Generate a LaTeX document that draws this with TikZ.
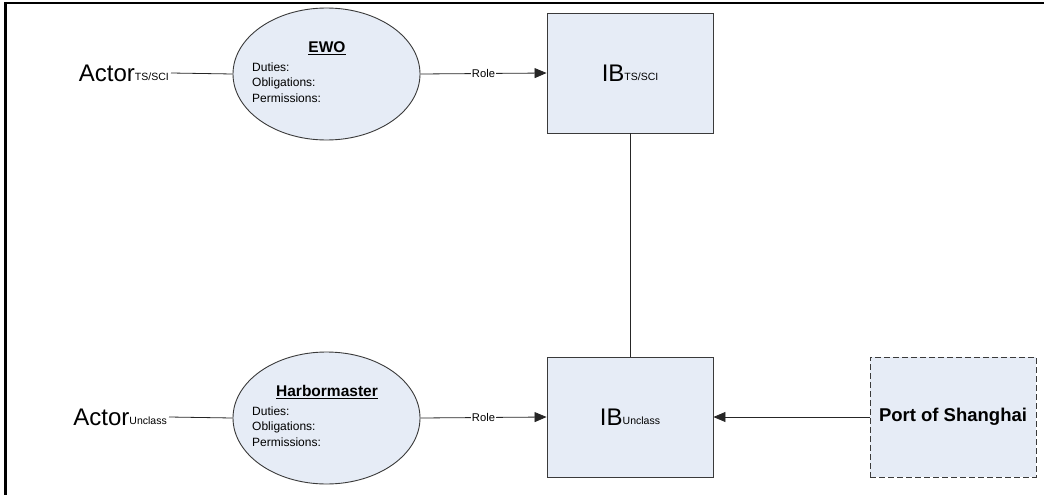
\documentclass[tikz,border=0pt]{standalone}
\usepackage{fontspec}
\setmainfont{Liberation Sans}
\usetikzlibrary{arrows.meta,shapes.geometric}

\definecolor{shapefill}{HTML}{E6ECF6}
\definecolor{shapeline}{HTML}{3A3A3A}

% small classification tag set after a large label
\newcommand{\clsub}[1]{\raisebox{0.3pt}{\fontsize{10.5}{11}\selectfont #1}}

\tikzset{
  actorlabel/.style={font=\fontsize{24}{26}\selectfont, inner sep=2pt, anchor=east},
  roleshape/.style={ellipse, draw=shapeline, line width=0.9pt, fill=shapefill,
    minimum width=187pt, minimum height=132pt, inner sep=0pt},
  infobox/.style={rectangle, draw=shapeline, line width=0.9pt, fill=shapefill,
    minimum width=166pt, minimum height=120pt, inner sep=0pt, font=\fontsize{24}{26}\selectfont},
  extbox/.style={infobox, dashed, dash pattern=on 6pt off 3pt, font=\bfseries\fontsize{18.5}{20}\selectfont},
  roletitle/.style={font=\bfseries\fontsize{15.5}{17}\selectfont, inner sep=0pt, anchor=base},
  roleitem/.style={font=\fontsize{12}{13}\selectfont, inner sep=0pt, anchor=base west},
  link/.style={line width=0.8pt, draw=black!85},
  arrowlink/.style={link, -{Triangle[length=12pt,width=10pt]}},
  linklabel/.style={font=\fontsize{11.2}{12}\selectfont, fill=white, inner sep=1pt},
}

\begin{document}
\begin{tikzpicture}[x=1pt, y=-1pt]
\useasboundingbox (0,0) rectangle (1044,495);

% frame edges
\draw[line width=2.5pt] (4,3) -- (1044,3);
\draw[line width=2.5pt] (5.3,2) -- (5.3,495);

% upper row: TS/SCI
\node[actorlabel] (actorA) at (171,73) {Actor\clsub{TS/SCI}};
\node[roleshape] (ewo) at (326.5,74) {};
\node[roletitle] (ewoT) at (327,52.5) {\underline{EWO}};
\node[roleitem] (ewoD) at (252,71) {Duties:};
\node[roleitem] (ewoO) at (252,86.5) {Obligations:};
\node[roleitem] (ewoP) at (252,102) {Permissions:};
\node[infobox] (ibA) at (630,73) {IB\clsub{TS/SCI}};

% lower row: Unclass
\node[actorlabel] (actorB) at (169,417) {Actor\clsub{Unclass}};
\node[roleshape] (hm) at (326.5,418) {};
\node[roletitle] (hmT) at (327,396.5) {\underline{Harbormaster}};
\node[roleitem] (hmD) at (252,415) {Duties:};
\node[roleitem] (hmO) at (252,430.5) {Obligations:};
\node[roleitem] (hmP) at (252,446) {Permissions:};
\node[infobox] (ibB) at (630,417) {IB\clsub{Unclass}};

\node[extbox] (port) at (953,417) {Port of Shanghai};

% connectors
\draw[link] (actorA.east) -- (ewo.west);
\draw[arrowlink] (ewo.east) -- node[linklabel, pos=0.5] {Role} (ibA.west);
\draw[link] (actorB.east) -- (hm.west);
\draw[arrowlink] (hm.east) -- node[linklabel, pos=0.5] {Role} (ibB.west);
\draw[link] (ibA.south) -- (ibB.north);
\draw[arrowlink] (port.west) -- (ibB.east);
\end{tikzpicture}
\end{document}
